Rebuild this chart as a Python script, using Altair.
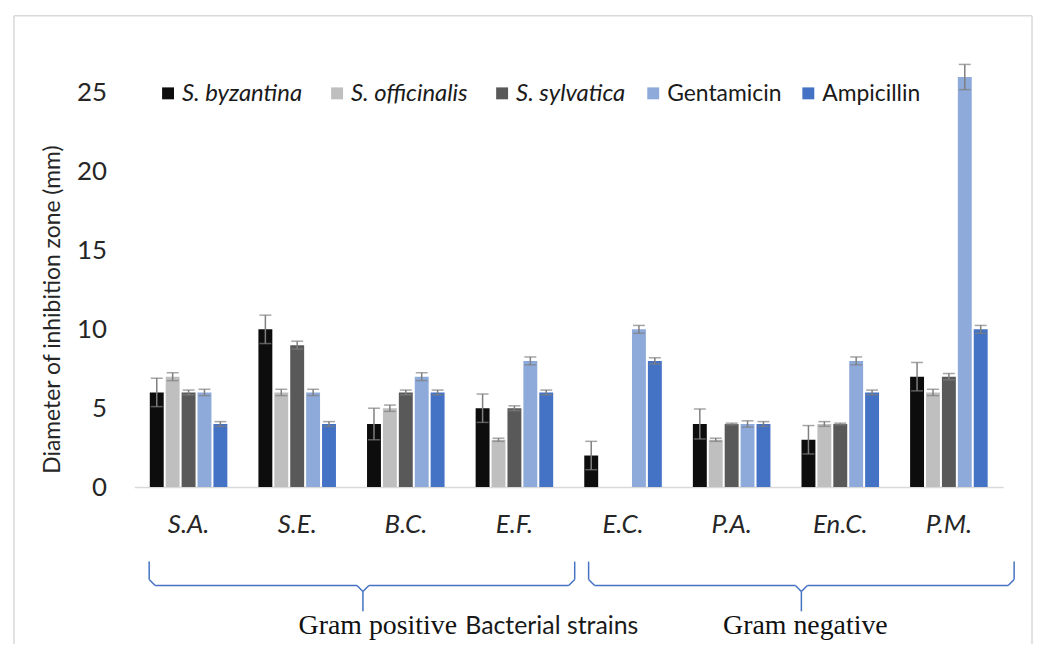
import altair as alt
import pandas as pd

strains = ["S.A.", "S.E.", "B.C.", "E.F.", "E.C.", "P.A.", "En.C.", "P.M."]
series = ["S. byzantina", "S. officinalis", "S. sylvatica", "Gentamicin", "Ampicillin"]
colors = ["#0d0d0d", "#bfbfbf", "#595959", "#8eaadb", "#4472c4"]

byzantina = [6, 10, 4, 5, 2, 4, 3, 7]
officinalis = [7, 6, 5, 3, 0, 3, 4, 6]
sylvatica = [6, 9, 6, 5, 0, 4, 4, 7]
gentamicin = [6, 6, 7, 8, 10, 4, 8, 26]
ampicillin = [4, 4, 6, 6, 8, 4, 6, 10]

byzantina_err = [0.9, 0.9, 1.0, 0.9, 0.9, 0.95, 0.9, 0.9]
officinalis_err = [0.25, 0.2, 0.2, 0.1, 0, 0.1, 0.15, 0.2]
sylvatica_err = [0.15, 0.25, 0.15, 0.15, 0, 0.05, 0.05, 0.2]
gentamicin_err = [0.2, 0.2, 0.25, 0.25, 0.25, 0.2, 0.25, 0.8]
ampicillin_err = [0.15, 0.15, 0.15, 0.15, 0.2, 0.15, 0.15, 0.25]

y_ticks = [0, 5, 10, 15, 20, 25]

values = [byzantina, officinalis, sylvatica, gentamicin, ampicillin]
errors = [byzantina_err, officinalis_err, sylvatica_err, gentamicin_err, ampicillin_err]

rows = []
for s, vals, errs in zip(series, values, errors):
    for st, v, e in zip(strains, vals, errs):
        rows.append({"strain": st, "series": s, "value": v, "lo": v - e, "hi": v + e})
df = pd.DataFrame(rows)
err_df = df[df["value"] > 0]

FONT = "Lato"
TXT = "#262626"

x_enc = alt.X("strain:N", sort=strains,
              scale=alt.Scale(paddingInner=0.286, paddingOuter=0.143),
              axis=alt.Axis(title=None, labelAngle=0, labelFont=FONT, labelFontSize=26,
                            labelFontStyle="italic", labelColor=TXT, labelPadding=25,
                            domainColor="#d9d9d9", domainWidth=1.5, ticks=False))
xo_enc = alt.XOffset("series:N", sort=series,
                     scale=alt.Scale(paddingInner=0.125, paddingOuter=0))
y_scale = alt.Scale(domain=[0, 29], nice=False)

bars = alt.Chart(df).mark_bar().encode(
    x=x_enc,
    xOffset=xo_enc,
    y=alt.Y("value:Q", scale=y_scale,
            axis=alt.Axis(values=y_ticks, title="Diameter of inhibition zone (mm)",
                          titleFont=FONT, titleFontSize=23, titleFontWeight="normal",
                          titleColor=TXT, titleX=-70, titleY=281,
                          labelFont=FONT, labelFontSize=26, labelColor=TXT,
                          labelPadding=28, domain=False, ticks=False, grid=False)),
    color=alt.Color("series:N", sort=series,
                    scale=alt.Scale(domain=series, range=colors), legend=None),
)

err_rule = alt.Chart(err_df).mark_rule(color="#7f7f7f", strokeWidth=1.5).encode(
    x=alt.X("strain:N", sort=strains),
    xOffset=alt.XOffset("series:N", sort=series),
    y=alt.Y("lo:Q", scale=y_scale),
    y2="hi:Q",
)
cap_hi = alt.Chart(err_df).mark_tick(color="#7f7f7f", size=12, thickness=1.5).encode(
    x=alt.X("strain:N", sort=strains),
    xOffset=alt.XOffset("series:N", sort=series),
    y=alt.Y("hi:Q", scale=y_scale),
)
cap_lo = alt.Chart(err_df).mark_tick(color="#7f7f7f", size=12, thickness=1.5).encode(
    x=alt.X("strain:N", sort=strains),
    xOffset=alt.XOffset("series:N", sort=series),
    y=alt.Y("lo:Q", scale=y_scale),
)

one = pd.DataFrame({"a": [0]})

# custom legend
legend_layers = []
sq_x = [34, 204, 370, 522, 678]
for name, col, sx in zip(series, colors, sq_x):
    italic = name.startswith("S.")
    legend_layers.append(
        alt.Chart(one).mark_square(size=144, color=col, opacity=1, filled=True).encode(
            x=alt.value(sx), y=alt.value(64)))
    legend_layers.append(
        alt.Chart(one).mark_text(align="left", baseline="middle", font=FONT,
                                 fontSize=24 if italic else 23,
                                 fontStyle="italic" if italic else "normal",
                                 color="#1a1a1a", text=name).encode(
            x=alt.value(sx + 14), y=alt.value(65)))


def seg(x1, y1, x2, y2, color, width):
    return alt.Chart(one).mark_rule(color=color, strokeWidth=width).encode(
        x=alt.value(x1), x2=alt.value(x2), y=alt.value(y1), y2=alt.value(y2))


deco = []
# chart border (light gray)
deco.append(seg(-121, -14, -121, 660, "#d9d9d9", 1.5))
deco.append(seg(-121, -14, 903, -14, "#d9d9d9", 1.5))
deco.append(seg(903, -14, 903, 660, "#d9d9d9", 1.5))

BLUE = "#4472c4"
for x0, xc, x1 in [(15, 230, 443), (457, 671, 885)]:
    yt, yh, ys = 535, 559, 585
    deco += [
        seg(x0, yt, x0, yh - 6, BLUE, 1.5),
        seg(x0, yh - 6, x0 + 6, yh, BLUE, 1.5),
        seg(x0 + 6, yh, xc - 6, yh, BLUE, 1.5),
        seg(xc - 6, yh, xc, yh + 6, BLUE, 1.5),
        seg(xc, yh + 6, xc + 6, yh, BLUE, 1.5),
        seg(xc + 6, yh, x1 - 6, yh, BLUE, 1.5),
        seg(x1 - 6, yh, x1, yh - 6, BLUE, 1.5),
        seg(x1, yh - 6, x1, yt, BLUE, 1.5),
        seg(xc, yh + 6, xc, ys, BLUE, 1.5),
    ]

texts = [
    alt.Chart(one).mark_text(align="center", baseline="alphabetic", font="Liberation Serif",
                             fontSize=28, color="#111111", text="Gram positive").encode(
        x=alt.value(245), y=alt.value(608)),
    alt.Chart(one).mark_text(align="center", baseline="alphabetic", font=FONT,
                             fontSize=25, color="#1a1a1a", text="Bacterial strains").encode(
        x=alt.value(420), y=alt.value(608)),
    alt.Chart(one).mark_text(align="center", baseline="alphabetic", font="Liberation Serif",
                             fontSize=28, color="#111111", text="Gram negative").encode(
        x=alt.value(675), y=alt.value(608)),
]

chart = alt.layer(bars, err_rule, cap_hi, cap_lo, *legend_layers, *deco, *texts).properties(
    width=874, height=460,
    autosize=alt.AutoSizeParams(type="none"),
    padding={"left": 127, "top": 20, "right": 33, "bottom": 156},
    background="white",
).configure_view(stroke=None)

chart.save("out.html", embed_options={"renderer": "svg", "actions": False})
